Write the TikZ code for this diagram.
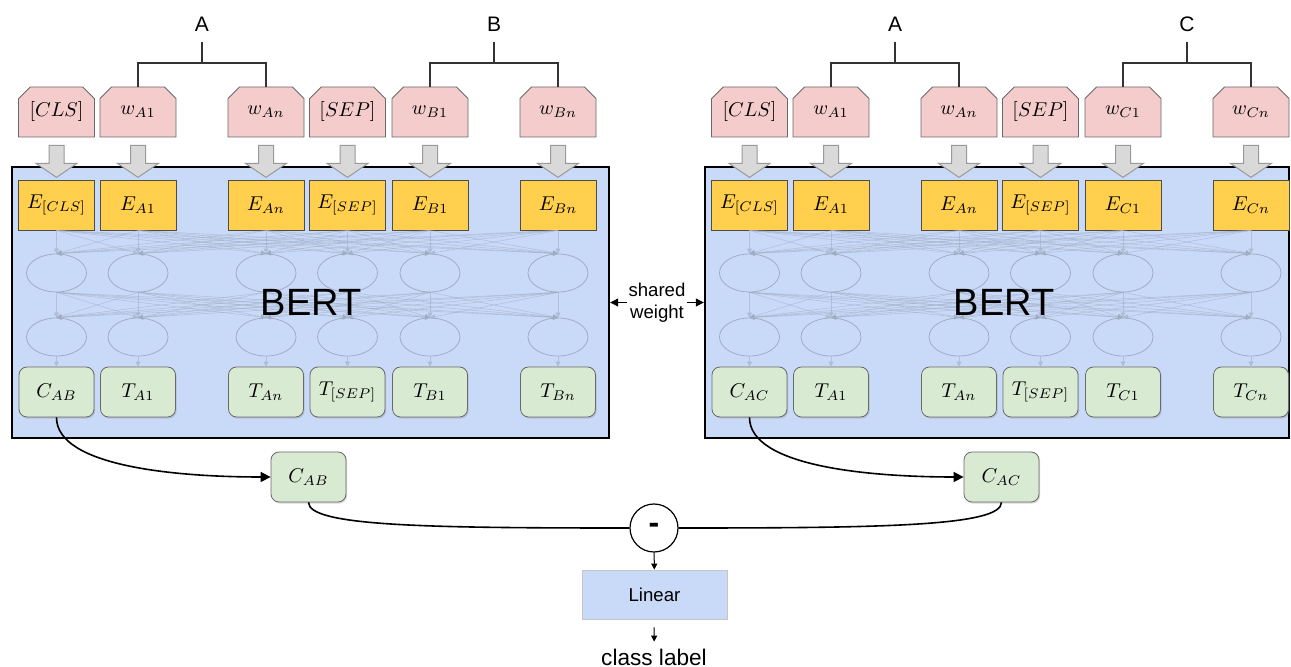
\documentclass[tikz,border=0pt]{standalone}
\usepackage[no-math]{fontspec}
\newfontfamily\sansf{Liberation Sans}
\usetikzlibrary{arrows.meta,shapes.misc,shapes.geometric,shadows}

\definecolor{tokpink}{RGB}{244,204,204}
\definecolor{embyellow}{RGB}{255,207,77}
\definecolor{outgreen}{RGB}{217,234,211}
\definecolor{bertblue}{RGB}{201,218,248}
\definecolor{arrowgray}{RGB}{217,217,217}
\definecolor{faint}{RGB}{160,172,195}
\definecolor{edgegray}{RGB}{105,105,105}

\begin{document}
\begin{tikzpicture}[x=0.5pt,y=0.5pt,>={Triangle[length=4pt,width=4pt]}]
  \tikzstyle{token}=[draw=edgegray,fill=tokpink,chamfered rectangle,chamfered rectangle corners={north west,north east},chamfered rectangle xsep=3pt,minimum width=38pt,minimum height=25pt,inner sep=0pt,font=\fontsize{10}{12}\selectfont]
  \tikzstyle{embed}=[draw=gray!60!black,fill=embyellow,minimum width=38pt,minimum height=25pt,inner sep=0pt,font=\fontsize{10}{12}\selectfont]
  \tikzstyle{outbox}=[draw=edgegray,fill=outgreen,rounded corners=4pt,minimum width=37.5pt,minimum height=25pt,inner sep=0pt,font=\fontsize{10}{12}\selectfont,drop shadow={shadow xshift=0.6pt,shadow yshift=-0.8pt,opacity=0.3}]
  \tikzstyle{hidden}=[ellipse,draw=faint,line width=0.4pt,minimum width=30pt,minimum height=19pt]
  \tikzstyle{faintline}=[draw=faint,line width=0.3pt,opacity=0.55,-{Triangle[length=2.5pt,width=2.5pt]}]
  \tikzstyle{bertbox}=[draw=black,line width=1.2pt,fill=bertblue]
  \tikzstyle{blockarrow}=[draw=gray!80,fill=arrowgray,line width=0.5pt]
  \tikzstyle{bracket}=[line width=0.7pt,draw=black!80]
  \tikzstyle{sans}=[font=\sansf\fontsize{10.5}{12}\selectfont]
  \tikzstyle{link}=[line width=0.8pt]

  \useasboundingbox (0,0) rectangle (1291,-667);

  % encoders
  \node[bertbox,minimum width=298.5pt,minimum height=135.5pt] (bertL) at (310.5,-302.5) {};
  \node[bertbox,minimum width=292pt,minimum height=135.5pt]   (bertR) at (997,-302.5) {};

  \foreach \s/\dx/\X in {L/0/B,R/693/C}{
    \foreach \i/\xc/\tok/\emb/\out in {1/56.5/{[CLS]}/{E_{[CLS]}}/{C_{A\X}},
                                       2/138/{w_{A1}}/{E_{A1}}/{T_{A1}},
                                       3/266/{w_{An}}/{E_{An}}/{T_{An}},
                                       4/347.5/{[SEP]}/{E_{[SEP]}}/{T_{[SEP]}},
                                       5/430/{w_{\X1}}/{E_{\X1}}/{T_{\X1}},
                                       6/558/{w_{\X n}}/{E_{\X n}}/{T_{\X n}}}{
      \node[token]  (w\s\i) at (\dx+\xc,-112) {$\tok$};
      \node[embed]  (e\s\i) at (\dx+\xc,-205) {$\emb$};
      \node[hidden] (h\s\i) at (\dx+\xc,-273) {};
      \node[hidden] (g\s\i) at (\dx+\xc,-337) {};
      \node[outbox] (t\s\i) at (\dx+\xc,-392) {$\out$};
      \draw[blockarrow,shift={(w\s\i.south)}]
        (-7.5,-8) -- (7.5,-8) -- (7.5,-26) -- (20.5,-26) -- (0,-40)
        -- (-20.5,-26) -- (-7.5,-26) -- cycle;
    }
  }

  % dense layers
  \foreach \s in {L,R}
    \foreach \i in {1,...,6}{
      \foreach \j in {1,...,6}{
        \draw[faintline] (e\s\i.south) -- (h\s\j.north);
        \draw[faintline] (h\s\i.south) -- (g\s\j.north);
      }
      \draw[faintline] (g\s\i.south) -- (t\s\i.north);
    }

  \node[font=\sansf\fontsize{19}{22}\selectfont] (nameL) at (311,-302) {BERT};
  \node[font=\sansf\fontsize{19}{22}\selectfont] (nameR) at (1004,-302) {BERT};

  % segments
  \foreach \n/\t/\a/\b/\xm in {AL/A/wL2/wL3/202,BL/B/wL5/wL6/494,AR/A/wR2/wR3/895,CR/C/wR5/wR6/1187}{
    \node[sans,inner sep=5pt] (seg\n) at (\xm,-24) {\t};
    \coordinate (j\n) at (\xm,-63);
    \draw[bracket] (\a.north) |- (j\n) -| (\b.north);
    \draw[bracket] (seg\n) -- (j\n);
  }

  \draw[<->,line width=0.5pt] (bertL.east) -- node[fill=white,align=center,inner sep=1pt,font=\sansf\fontsize{9.3}{11}\selectfont] (shared) {shared\\weight} (bertR.west);

  % pair classifier
  \node[outbox] (cAB) at (308.5,-477) {$C_{AB}$};
  \node[outbox] (cAC) at (1001.5,-477) {$C_{AC}$};
  \node[draw,circle,fill=white,line width=0.6pt,minimum size=24pt,inner sep=0pt,font=\sansf\bfseries\fontsize{16}{18}\selectfont] (minus) at (654,-528) {-};
  \node[draw=gray!45,fill=bertblue,minimum width=72.5pt,minimum height=24.5pt,font=\sansf\fontsize{9.3}{11}\selectfont] (linear) at (654.5,-594.5) {Linear};
  \node[font=\sansf\fontsize{11.3}{13}\selectfont] (clabel) at (654,-657) {class label};

  \draw[link,-{Triangle[length=5pt,width=5pt]}] (tL1.south) .. controls +(0,-50) and +(-90,0) .. (cAB.west);
  \draw[link,-{Triangle[length=5pt,width=5pt]}] (tR1.south) .. controls +(0,-50) and +(-90,0) .. (cAC.west);
  \draw[link] (cAB.south) .. controls +(0,-24) and +(-200,0) .. (minus.west);
  \draw[link] (cAC.south) .. controls +(0,-24) and +(200,0) .. (minus.east);
  \draw[line width=0.5pt,-{Triangle[length=3pt,width=3pt]}] (minus) -- (linear);
  \draw[line width=0.5pt,-{Triangle[length=3pt,width=3pt]},shorten <=4pt] (linear) -- (clabel);
\end{tikzpicture}
\end{document}
